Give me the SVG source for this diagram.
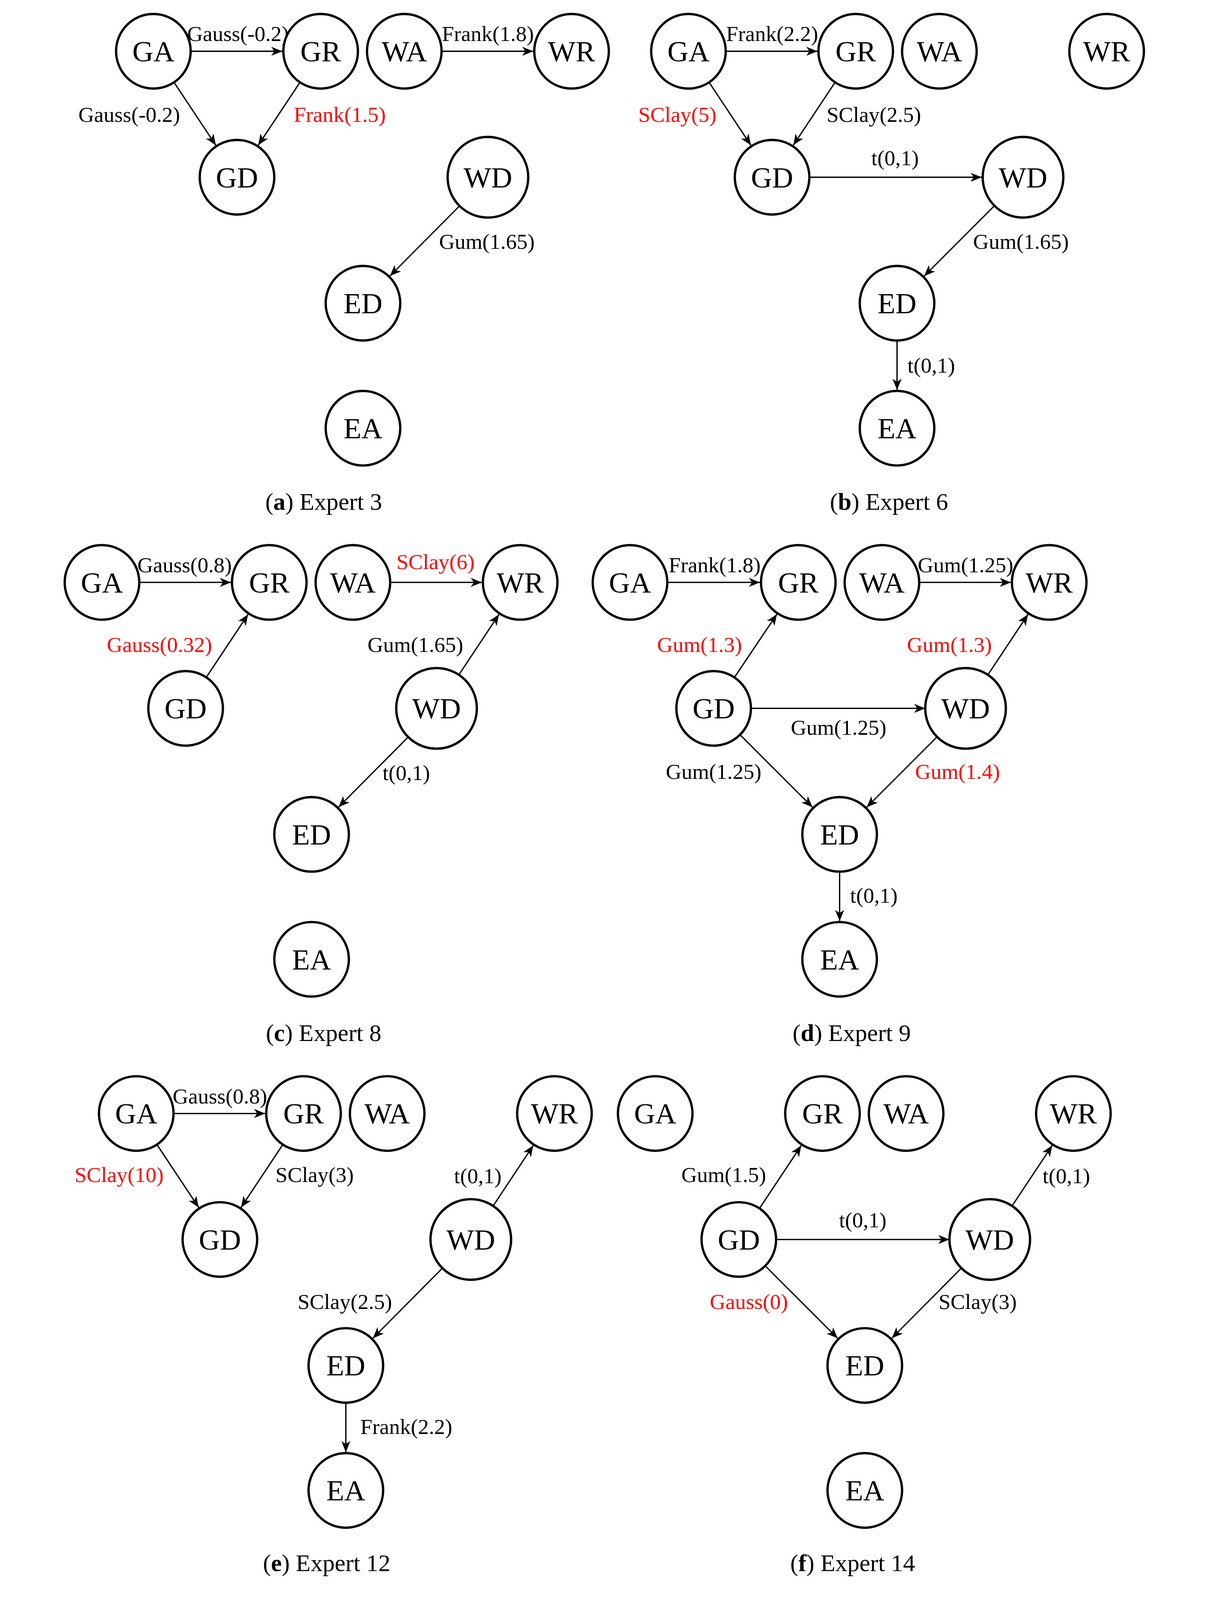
<svg xmlns="http://www.w3.org/2000/svg" width="3098" height="4465" viewBox="0 0 3098 4465">
<style>
.n circle{fill:#fff;stroke:#000;stroke-width:2.3}
.n text{font-family:"Liberation Serif",serif;font-size:29px;text-anchor:middle}
.e line{stroke:#000;stroke-width:1.3;marker-end:url(#ah)}
.l{font-family:"Liberation Serif",serif;font-size:21.5px;text-anchor:middle}
.r{fill:#f00}
.c{font-family:"Liberation Serif",serif;font-size:24px;text-anchor:middle}
</style>
<defs>
<marker id="ah" markerUnits="userSpaceOnUse" viewBox="-12 -6 14 12" markerWidth="14" markerHeight="12" refX="0" refY="0" orient="auto"><path d="M0,0 L-11,-4.5 L-8,0 L-11,4.5 z" fill="#000"/></marker>
</defs>
<rect width="3098" height="4465" fill="#fff"/>
<g transform="translate(145,10) scale(2.58)">
<g id="connectors" class="e">
<line x1="133" y1="47" x2="224" y2="47"/><line x1="116.5" y1="77.8" x2="158" y2="140.3"/><line x1="241.5" y1="77.8" x2="200" y2="140.3"/><line x1="382" y1="47" x2="473" y2="47"/><line x1="402" y1="198.3" x2="330.8" y2="270"/>
<line x1="664" y1="47" x2="755" y2="47"/><line x1="647.5" y1="77.8" x2="689" y2="140.3"/><line x1="772.5" y1="77.8" x2="731" y2="140.3"/><line x1="747" y1="172" x2="918" y2="172"/><line x1="932.8" y1="198.2" x2="860.9" y2="270.1"/><line x1="834" y1="334" x2="834" y2="383"/>
<line x1="82" y1="574" x2="173" y2="574"/><line x1="148.5" y1="668.2" x2="190" y2="605.7"/><line x1="331" y1="574" x2="422" y2="574"/><line x1="397.5" y1="668.2" x2="439" y2="605.7"/><line x1="351" y1="725.3" x2="279.8" y2="797"/>
<line x1="606" y1="574" x2="698" y2="574"/><line x1="672.6" y1="668.3" x2="714.8" y2="605.5"/><line x1="856" y1="574" x2="947" y2="574"/><line x1="922.5" y1="668.2" x2="964" y2="605.7"/><line x1="689" y1="699" x2="862" y2="699"/><line x1="678.2" y1="725.2" x2="750.1" y2="797.1"/><line x1="875.8" y1="725.2" x2="803.9" y2="797.1"/><line x1="777" y1="861" x2="777" y2="910"/>
<line x1="116" y1="1101" x2="207" y2="1101"/><line x1="99.5" y1="1131.8" x2="141" y2="1194.3"/><line x1="224.5" y1="1131.8" x2="183" y2="1194.3"/><line x1="431.5" y1="1195.2" x2="473" y2="1132.7"/><line x1="385" y1="1252.3" x2="313.8" y2="1324"/><line x1="287" y1="1388" x2="287" y2="1437"/>
<line x1="697.5" y1="1195.2" x2="739" y2="1132.7"/><line x1="714" y1="1226" x2="886" y2="1226"/><line x1="946.5" y1="1195.2" x2="988" y2="1132.7"/><line x1="703.2" y1="1252.2" x2="775.1" y2="1324.1"/><line x1="900" y1="1252.3" x2="828.8" y2="1324"/>
</g>
<g id="labels">
<text class="l" x="180" y="37">Gauss(-0.2)</text><text class="l" x="72" y="117">Gauss(-0.2)</text><text class="l r" x="281" y="117">Frank(1.5)</text><text class="l" x="428" y="37">Frank(1.8)</text><text class="l" x="427" y="243">Gum(1.65)</text>
<text class="l" x="710" y="37">Frank(2.2)</text><text class="l r" x="616" y="117">SClay(5)</text><text class="l" x="811" y="117">SClay(2.5)</text><text class="l" x="832" y="160">t(0,1)</text><text class="l" x="957" y="243">Gum(1.65)</text><text class="l" x="868" y="366">t(0,1)</text>
<text class="l" x="127" y="564">Gauss(0.8)</text><text class="l r" x="102" y="643">Gauss(0.32)</text><text class="l r" x="376" y="561">SClay(6)</text><text class="l" x="356" y="643">Gum(1.65)</text><text class="l" x="347" y="770">t(0,1)</text>
<text class="l" x="653" y="564">Frank(1.8)</text><text class="l r" x="638" y="643">Gum(1.3)</text><text class="l" x="902" y="564">Gum(1.25)</text><text class="l r" x="886" y="643">Gum(1.3)</text><text class="l" x="776" y="725">Gum(1.25)</text><text class="l" x="652" y="769">Gum(1.25)</text><text class="l r" x="894" y="769">Gum(1.4)</text><text class="l" x="811" y="892">t(0,1)</text>
<text class="l" x="162" y="1091">Gauss(0.8)</text><text class="l r" x="62" y="1169">SClay(10)</text><text class="l" x="256" y="1169">SClay(3)</text><text class="l" x="418" y="1170">t(0,1)</text><text class="l" x="286" y="1295">SClay(2.5)</text><text class="l" x="347" y="1419">Frank(2.2)</text>
<text class="l" x="662" y="1169">Gum(1.5)</text><text class="l" x="800" y="1214">t(0,1)</text><text class="l" x="1002" y="1170">t(0,1)</text><text class="l r" x="687" y="1295">Gauss(0)</text><text class="l" x="914" y="1295">SClay(3)</text>
</g>
<g id="nodes" class="n">
<g id="a_GA"><circle cx="96" cy="47" r="37"/><text x="96" y="57">GA</text></g>
<g id="a_GR"><circle cx="262" cy="47" r="37"/><text x="262" y="57">GR</text></g>
<g id="a_WA"><circle cx="345" cy="47" r="37"/><text x="345" y="57">WA</text></g>
<g id="a_WR"><circle cx="511" cy="47" r="37"/><text x="511" y="57">WR</text></g>
<g id="a_GD"><circle cx="179" cy="172" r="37"/><text x="179" y="182">GD</text></g>
<g id="a_WD"><circle cx="428" cy="172" r="40"/><text x="428" y="182">WD</text></g>
<g id="a_ED"><circle cx="304" cy="297" r="37"/><text x="304" y="307">ED</text></g>
<g id="a_EA"><circle cx="304" cy="421" r="37"/><text x="304" y="431">EA</text></g>
<g id="b_GA"><circle cx="627" cy="47" r="37"/><text x="627" y="57">GA</text></g>
<g id="b_GR"><circle cx="793" cy="47" r="37"/><text x="793" y="57">GR</text></g>
<g id="b_WA"><circle cx="876" cy="47" r="37"/><text x="876" y="57">WA</text></g>
<g id="b_WR"><circle cx="1042" cy="47" r="37"/><text x="1042" y="57">WR</text></g>
<g id="b_GD"><circle cx="710" cy="172" r="37"/><text x="710" y="182">GD</text></g>
<g id="b_WD"><circle cx="959" cy="172" r="40"/><text x="959" y="182">WD</text></g>
<g id="b_ED"><circle cx="834" cy="297" r="37"/><text x="834" y="307">ED</text></g>
<g id="b_EA"><circle cx="834" cy="421" r="37"/><text x="834" y="431">EA</text></g>
<g id="c_GA"><circle cx="45" cy="574" r="37"/><text x="45" y="584">GA</text></g>
<g id="c_GR"><circle cx="211" cy="574" r="37"/><text x="211" y="584">GR</text></g>
<g id="c_WA"><circle cx="294" cy="574" r="37"/><text x="294" y="584">WA</text></g>
<g id="c_WR"><circle cx="460" cy="574" r="37"/><text x="460" y="584">WR</text></g>
<g id="c_GD"><circle cx="128" cy="699" r="37"/><text x="128" y="709">GD</text></g>
<g id="c_WD"><circle cx="377" cy="699" r="40"/><text x="377" y="709">WD</text></g>
<g id="c_ED"><circle cx="253" cy="824" r="37"/><text x="253" y="834">ED</text></g>
<g id="c_EA"><circle cx="253" cy="948" r="37"/><text x="253" y="958">EA</text></g>
<g id="d_GA"><circle cx="569" cy="574" r="37"/><text x="569" y="584">GA</text></g>
<g id="d_GR"><circle cx="736" cy="574" r="37"/><text x="736" y="584">GR</text></g>
<g id="d_WA"><circle cx="819" cy="574" r="37"/><text x="819" y="584">WA</text></g>
<g id="d_WR"><circle cx="985" cy="574" r="37"/><text x="985" y="584">WR</text></g>
<g id="d_GD"><circle cx="652" cy="699" r="37"/><text x="652" y="709">GD</text></g>
<g id="d_WD"><circle cx="902" cy="699" r="40"/><text x="902" y="709">WD</text></g>
<g id="d_ED"><circle cx="777" cy="824" r="37"/><text x="777" y="834">ED</text></g>
<g id="d_EA"><circle cx="777" cy="948" r="37"/><text x="777" y="958">EA</text></g>
<g id="e_GA"><circle cx="79" cy="1101" r="37"/><text x="79" y="1111">GA</text></g>
<g id="e_GR"><circle cx="245" cy="1101" r="37"/><text x="245" y="1111">GR</text></g>
<g id="e_WA"><circle cx="328" cy="1101" r="37"/><text x="328" y="1111">WA</text></g>
<g id="e_WR"><circle cx="494" cy="1101" r="37"/><text x="494" y="1111">WR</text></g>
<g id="e_GD"><circle cx="162" cy="1226" r="37"/><text x="162" y="1236">GD</text></g>
<g id="e_WD"><circle cx="411" cy="1226" r="40"/><text x="411" y="1236">WD</text></g>
<g id="e_ED"><circle cx="287" cy="1351" r="37"/><text x="287" y="1361">ED</text></g>
<g id="e_EA"><circle cx="287" cy="1475" r="37"/><text x="287" y="1485">EA</text></g>
<g id="f_GA"><circle cx="594" cy="1101" r="37"/><text x="594" y="1111">GA</text></g>
<g id="f_GR"><circle cx="760" cy="1101" r="37"/><text x="760" y="1111">GR</text></g>
<g id="f_WA"><circle cx="843" cy="1101" r="37"/><text x="843" y="1111">WA</text></g>
<g id="f_WR"><circle cx="1009" cy="1101" r="37"/><text x="1009" y="1111">WR</text></g>
<g id="f_GD"><circle cx="677" cy="1226" r="37"/><text x="677" y="1236">GD</text></g>
<g id="f_WD"><circle cx="926" cy="1226" r="40"/><text x="926" y="1236">WD</text></g>
<g id="f_ED"><circle cx="802" cy="1351" r="37"/><text x="802" y="1361">ED</text></g>
<g id="f_EA"><circle cx="802" cy="1475" r="37"/><text x="802" y="1485">EA</text></g>
</g>
<g id="captions">
<text class="c" x="265" y="502">(<tspan font-weight="bold">a</tspan>) Expert 3</text>
<text class="c" x="826" y="502">(<tspan font-weight="bold">b</tspan>) Expert 6</text>
<text class="c" x="265" y="1029">(<tspan font-weight="bold">c</tspan>) Expert 8</text>
<text class="c" x="789" y="1029">(<tspan font-weight="bold">d</tspan>) Expert 9</text>
<text class="c" x="268" y="1555">(<tspan font-weight="bold">e</tspan>) Expert 12</text>
<text class="c" x="790" y="1555">(<tspan font-weight="bold">f</tspan>) Expert 14</text>
</g>
</g>
</svg>
